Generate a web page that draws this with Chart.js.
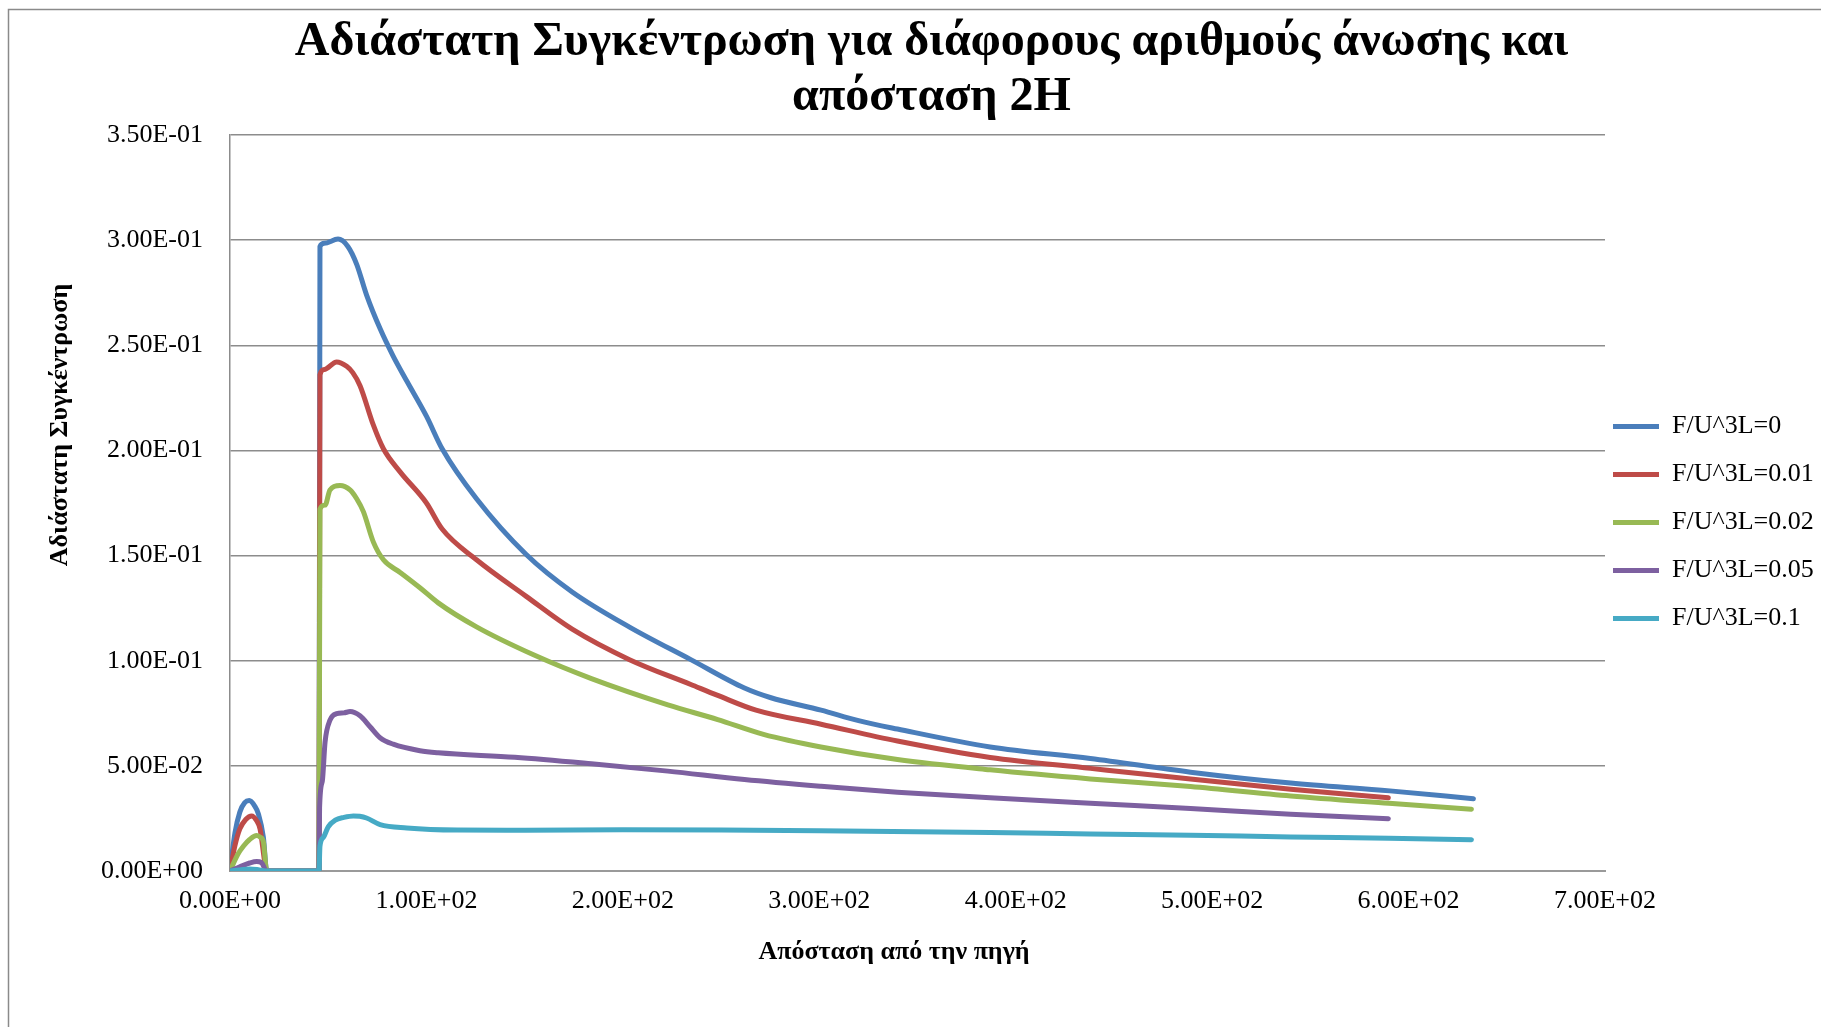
<!DOCTYPE html>
<html>
<head>
<meta charset="utf-8">
<script src="https://cdn.jsdelivr.net/npm/chart.js@4.4.1/dist/chart.umd.min.js"></script>
<style>
  html, body { margin: 0; padding: 0; background: #fff; }
  #wrap { width: 1821px; height: 1027px; }
</style>
</head>
<body>
<div id="wrap"><canvas id="chart" width="1821" height="1027"></canvas></div>
<script>
// Chart data
const seriesLabels = ['F/U^3L=0', 'F/U^3L=0.01', 'F/U^3L=0.02', 'F/U^3L=0.05', 'F/U^3L=0.1'];
const seriesColors = ['#4A7EBB', '#BE4B48', '#98B954', '#7D60A0', '#46AAC5'];

const distA = [0, 2.5, 5, 7.5, 9.8, 12.5, 14.5, 17, 18.7, 45.3, 45.8, 48, 55, 60, 64.5, 69.5, 76.5, 83, 90, 100, 108, 125.5, 150.8, 174.2, 203.4, 234.6, 261.9, 275, 300.9, 320, 339.8, 387, 438, 489, 540, 590.5, 633];
const concA = [0, 0.018, 0.028, 0.0325, 0.0335, 0.031, 0.027, 0.016, 0, 0, 0.297, 0.2985, 0.3005, 0.297, 0.2885, 0.274, 0.2577, 0.245, 0.233, 0.2163, 0.2008, 0.177, 0.1505, 0.1327, 0.116, 0.1005, 0.087, 0.0825, 0.0765, 0.0715, 0.0675, 0.059, 0.0535, 0.047, 0.0418, 0.0381, 0.0344];

const distB = [0, 2.5, 5, 8, 11, 13.5, 15.3, 17.8, 18.7, 45.3, 45.8, 48, 54.3, 59.4, 62.5, 66.2, 73, 78.1, 86.6, 100, 108, 125.5, 150.8, 174.2, 203.4, 234.6, 248.3, 267.8, 300.9, 339.8, 387, 438, 489, 540, 589.7];
const concB = [0, 0.012, 0.02, 0.0245, 0.0262, 0.024, 0.02, 0.0035, 0, 0, 0.236, 0.2385, 0.2421, 0.24, 0.237, 0.2308, 0.212, 0.2008, 0.1898, 0.175, 0.1626, 0.148, 0.1306, 0.115, 0.1005, 0.0887, 0.0835, 0.0765, 0.0698, 0.0618, 0.054, 0.0488, 0.0437, 0.0389, 0.0348];

const distC = [0, 1.7, 4, 6.8, 10, 13.6, 15.5, 17, 18.7, 45.3, 45.8, 48.4, 50.9, 56, 61.1, 64.5, 67.9, 73, 78.1, 86.6, 96.7, 106, 125.5, 154.8, 184, 222.9, 248.3, 271.6, 300.8, 339.8, 387, 438, 489, 540, 590, 632];
const concC = [0, 0.0035, 0.008, 0.0118, 0.015, 0.0169, 0.016, 0.0138, 0, 0, 0.172, 0.174, 0.1812, 0.1833, 0.1812, 0.177, 0.1709, 0.1564, 0.148, 0.142, 0.1347, 0.1275, 0.1161, 0.1027, 0.0915, 0.079, 0.072, 0.065, 0.059, 0.053, 0.0481, 0.0438, 0.0402, 0.0357, 0.0322, 0.0294];

const distD = [0, 5, 10, 13.6, 16, 18.7, 45.3, 45.6, 47, 48.4, 50.9, 54.3, 58, 61.1, 66.2, 71.3, 76.4, 83.1, 96.7, 106, 145, 184, 222.9, 261.9, 300.9, 339.8, 387, 438, 489, 540, 589.7];
const concD = [0, 0.002, 0.0038, 0.0045, 0.004, 0, 0, 0.03, 0.0428, 0.0614, 0.0717, 0.0748, 0.0752, 0.0758, 0.0738, 0.0686, 0.0634, 0.0603, 0.0572, 0.0562, 0.0541, 0.051, 0.0475, 0.0435, 0.0403, 0.0375, 0.0348, 0.0322, 0.0297, 0.027, 0.0249];

const distE = [0, 5, 10, 15, 18.7, 45.3, 45.8, 47.5, 50, 53.6, 58, 62.8, 66, 69.5, 76.4, 90, 115.7, 150, 200, 250, 300, 387, 438, 489, 540, 590, 632];
const concE = [0, 0.0005, 0.001, 0.0005, 0, 0, 0.0118, 0.0159, 0.021, 0.0242, 0.0255, 0.0262, 0.026, 0.0252, 0.0221, 0.0205, 0.0195, 0.0194, 0.0196, 0.0195, 0.0192, 0.0183, 0.0176, 0.017, 0.0162, 0.0156, 0.0149];

const yTickLabels = ['0.00E+00', '5.00E-02', '1.00E-01', '1.50E-01', '2.00E-01', '2.50E-01', '3.00E-01', '3.50E-01'];
const xTickLabels = ['0.00E+00', '1.00E+02', '2.00E+02', '3.00E+02', '4.00E+02', '5.00E+02', '6.00E+02', '7.00E+02'];

const chartTitle = ['Αδιάστατη Συγκέντρωση για διάφορους αριθμούς άνωσης και', 'απόσταση 2H'];
const xTitle = 'Απόσταση από την πηγή';
const yTitle = 'Αδιάστατη Συγκέντρωση';

const serif = '"Liberation Serif", "Times New Roman", serif';
const gridGray = '#8c8c8c';

function toPoints(xs, ys) {
  return xs.map((x, i) => ({ x: x, y: ys[i] }));
}

const seriesData = [
  toPoints(distA, concA),
  toPoints(distB, concB),
  toPoints(distC, concC),
  toPoints(distD, concD),
  toPoints(distE, concE)
];

// White background + outer frame
const framePlugin = {
  id: 'frame',
  beforeDraw(chart) {
    const ctx = chart.ctx;
    ctx.save();
    ctx.fillStyle = '#fff';
    ctx.fillRect(0, 0, chart.width, chart.height);
    ctx.strokeStyle = '#8a8a8a';
    ctx.lineWidth = 1.5;
    ctx.strokeRect(8.5, 9.5, chart.width + 40, chart.height + 40);
    ctx.restore();
  }
};

// Axis titles placed like the original
const axisTitlePlugin = {
  id: 'axisTitles',
  afterDraw(chart) {
    const ctx = chart.ctx;
    const area = chart.chartArea;
    ctx.save();
    ctx.fillStyle = '#000';
    ctx.font = 'bold 26px ' + serif;
    ctx.textAlign = 'center';
    ctx.textBaseline = 'middle';
    ctx.fillText(xTitle, area.left + 664, area.bottom + 81);
    ctx.translate(60, area.top + 290);
    ctx.rotate(-Math.PI / 2);
    ctx.fillText(yTitle, 0, 0);
    ctx.restore();
  }
};

const ctx = document.getElementById('chart');
new Chart(ctx, {
  type: 'line',
  data: {
    datasets: seriesLabels.map((label, i) => ({
      label: label,
      data: seriesData[i],
      borderColor: seriesColors[i],
      backgroundColor: seriesColors[i],
      borderWidth: 5,
      borderCapStyle: 'round',
      borderJoinStyle: 'round',
      pointRadius: 0,
      pointHoverRadius: 0,
      cubicInterpolationMode: 'monotone',
      fill: false,
      order: seriesLabels.length - 1 - i
    }))
  },
  options: {
    responsive: false,
    animation: false,
    devicePixelRatio: 1,
    layout: { padding: { left: 42, right: 0, top: 0, bottom: 0 } },
    scales: {
      x: {
        type: 'linear',
        min: 0,
        max: 700,
        afterFit(scale) { scale.height = 156; },
        ticks: {
          stepSize: 100,
          autoSkip: false,
          maxRotation: 0,
          padding: 15,
          color: '#000',
          font: { family: serif, size: 26 },
          callback: (v) => xTickLabels[Math.round(v / 100)]
        },
        grid: { display: false, drawTicks: false },
        border: { display: true, color: '#9a9a9a', width: 2 }
      },
      y: {
        type: 'linear',
        min: 0,
        max: 0.35,
        afterFit(scale) { scale.width = 188; },
        ticks: {
          stepSize: 0.05,
          padding: 27,
          color: '#000',
          font: { family: serif, size: 26 },
          callback: (v) => yTickLabels[Math.round(v / 0.05)]
        },
        grid: { color: gridGray, lineWidth: 1.5, drawTicks: false },
        border: { display: true, color: gridGray, width: 1.5 }
      }
    },
    plugins: {
      title: {
        display: true,
        text: chartTitle,
        color: '#000',
        font: { family: serif, size: 48, weight: 'bold', lineHeight: 55 / 48 },
        padding: { top: 15, bottom: 10 }
      },
      legend: {
        position: 'right',
        align: 'center',
        maxWidth: 216,
        title: { display: true, text: '', padding: 0, font: { size: 10, lineHeight: '32px' } },
        labels: {
          usePointStyle: true,
          pointStyle: 'line',
          pointStyleWidth: 46,
          boxWidth: 46,
          padding: 8,
          color: '#000',
          font: { family: serif, size: 26, lineHeight: '40px' },
          generateLabels(chart) {
            const items = Chart.defaults.plugins.legend.labels.generateLabels(chart);
            items.sort((a, b) => a.datasetIndex - b.datasetIndex);
            return items.map(item => Object.assign(item, { text: [item.text] }));
          }
        }
      },
      tooltip: { enabled: false }
    }
  },
  plugins: [framePlugin, axisTitlePlugin]
});
</script>
</body>
</html>
